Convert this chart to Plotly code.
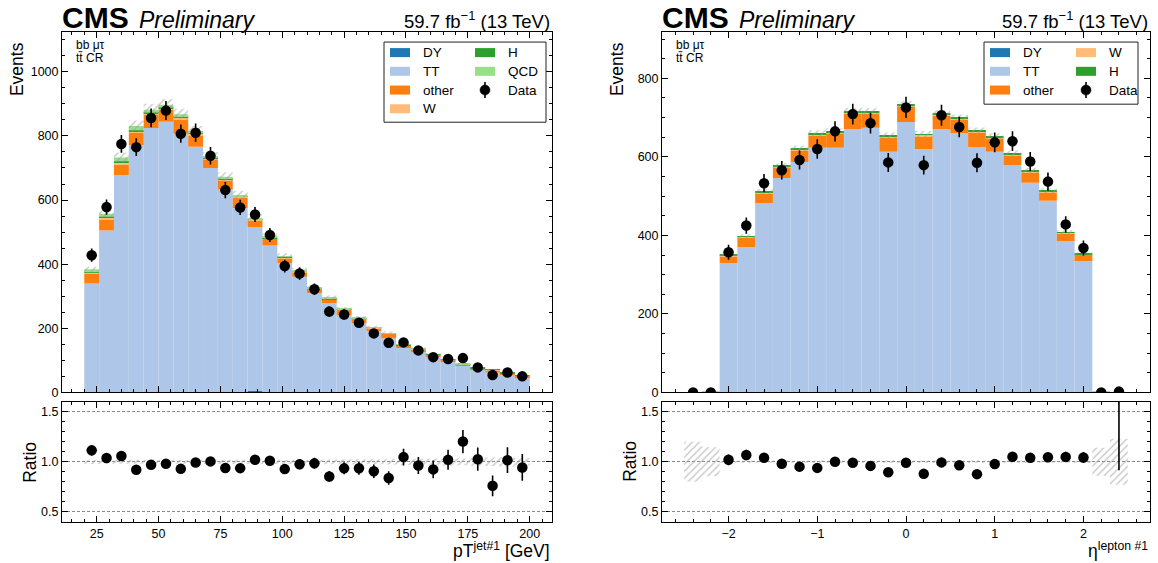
import numpy as np
import plotly.graph_objects as go

W, H = 1158, 563
FONT = "Liberation Sans, Arial, Helvetica, sans-serif"

COLORS = {
    "DY": "#1f77b4",
    "TT": "#aec7e8",
    "other": "#ff7f0e",
    "W": "#ffbb78",
    "H": "#2ca02c",
    "QCD": "#98df8a",
}
HATCH = "#9a9a9a"

# ---------------- leading-jet pT, 6 GeV bins from 20 to 200 GeV ----------------
pt_edges = list(range(20, 201, 6))
pt_dy = [0, 0, 0, 0, 0, 0, 0, 0, 0, 0, 0, 4, 0, 0, 0,
         0, 0, 0, 0, 0, 0, 0, 0, 0, 0, 0, 0, 0, 0, 0]
pt_tt = [340, 505, 677, 771, 825, 844, 807, 766, 700, 633, 575, 512, 458, 403, 361,
         309, 278, 240, 216, 191, 169, 141, 125, 111, 96, 84, 72, 62, 57, 47]
pt_other = [30, 35, 34, 38, 41, 38, 44, 36, 26, 28, 32, 20, 21, 16, 14,
            14, 12, 17, 13, 9, 13, 5, 8, 6, 5, 2, 3, 7, 3, 5]
pt_w = [3, 5, 7, 6, 4, 4, 5, 4, 3, 3, 3, 2, 2, 2, 2,
        1, 1, 1, 1, 1, 1, 1, 1, 1, 0, 0, 0, 1, 0, 0]
pt_h = [2, 3, 3, 3, 3, 3, 3, 2, 2, 2, 2, 2, 2, 2, 1,
        1, 2, 1, 1, 1, 1, 1, 1, 1, 1, 2, 1, 1, 1, 1]
pt_qcd = [9, 9, 12, 13, 9, 8, 9, 7, 4, 7, 4, 4, 3, 2, 2,
          2, 2, 1, 1, 1, 1, 1, 1, 0, 0, 1, 0, 0, 0, 0]
pt_unc = [8, 11, 15, 17, 18, 18, 17, 16, 15, 14, 13, 12, 10, 9, 8,
          7, 7, 6, 6, 5, 5, 5, 4, 4, 4, 3, 3, 3, 3, 2]
pt_data = [428, 578, 775, 765, 856, 879, 807, 810, 738, 631, 577, 555, 491, 394, 371,
           322, 252, 243, 217, 184, 155, 156, 131, 110, 104, 107, 78, 54, 62, 50]

# ---------------- leading-lepton eta, 0.2 bins from -2.5 to 2.5 ----------------
eta_edges = [-2.5, -2.3, -2.1, -1.9, -1.7, -1.5, -1.3, -1.1, -0.9, -0.7, -0.5, -0.3, -0.1,
             0.1, 0.3, 0.5, 0.7, 0.9, 1.1, 1.3, 1.5, 1.7, 1.9, 2.1, 2.3, 2.5]
eta_dy = [0] * 25
eta_tt = [0.5, 0.9, 329, 370, 482, 546, 587, 623, 623, 671, 674, 613, 689,
          620, 671, 660, 625, 613, 579, 534, 488, 386, 334, 0.9, 0.64]
eta_other = [0, 0, 17, 24, 24, 27, 28, 32, 37, 40, 36, 36, 38,
             33, 33, 35, 37, 34, 25, 26, 21, 18, 16, 0, 0]
eta_w = [0, 0, 2, 2, 3, 2, 4, 3, 3, 3, 3, 3, 3,
         3, 3, 3, 3, 3, 3, 3, 3, 2, 2, 0, 0]
eta_h = [0, 0, 2, 2, 3, 2, 3, 2, 2, 2, 2, 2, 3,
         2, 3, 2, 2, 2, 2, 2, 2, 2, 1, 0, 0]
eta_unc = [0.1, 0.13, 4, 5, 6, 7, 7, 8, 8, 9, 9, 8, 9,
           8, 9, 8, 8, 8, 7, 7, 6, 5, 4, 0.126, 0.147]
eta_data = [0, 0, 357, 425, 533, 566, 592, 620, 665, 709, 686, 586, 726,
            579, 706, 676, 585, 637, 640, 588, 537, 428, 368, 0, 2]


def fx(p):
    return p / W


def fy(p):
    return 1 - p / H


fig = go.Figure()


def draw_panel(edges, comps, unc, data, xm, ym, xr, yr):
    edges = np.asarray(edges, float)
    centers = 0.5 * (edges[1:] + edges[:-1])
    widths = np.diff(edges)
    base = np.zeros(len(centers))
    for name, vals in comps:
        vals = np.asarray(vals, float)
        fig.add_trace(go.Bar(
            x=centers, y=vals, base=base.copy(), width=widths, name=name,
            marker=dict(color=COLORS[name], line=dict(width=0)),
            showlegend=False, hoverinfo="skip", xaxis=xm, yaxis=ym))
        base = base + vals
    total = base
    unc = np.asarray(unc, float)
    hatch = dict(shape="/", fgcolor=HATCH, size=5, solidity=0.3, fillmode="overlay")
    fig.add_trace(go.Bar(
        x=centers, y=2 * unc, base=total - unc, width=widths,
        marker=dict(color="rgba(0,0,0,0)", line=dict(width=0), pattern=hatch),
        showlegend=False, hoverinfo="skip", xaxis=xm, yaxis=ym))
    data = np.asarray(data, float)
    err = np.sqrt(data)
    fig.add_trace(go.Scatter(
        x=centers, y=data, mode="markers",
        marker=dict(color="black", size=10.5),
        error_y=dict(type="data", array=err, color="black", thickness=1.6, width=0),
        showlegend=False, xaxis=xm, yaxis=ym))
    # ratio panel
    rel = unc / total
    fig.add_trace(go.Bar(
        x=centers, y=2 * rel, base=1 - rel, width=widths,
        marker=dict(color="rgba(0,0,0,0)", line=dict(width=0), pattern=hatch),
        showlegend=False, hoverinfo="skip", xaxis=xr, yaxis=yr))
    fig.add_trace(go.Scatter(
        x=centers, y=data / total, mode="markers",
        marker=dict(color="black", size=10.5),
        error_y=dict(type="data", array=err / total, color="black", thickness=1.6, width=0),
        showlegend=False, xaxis=xr, yaxis=yr))


draw_panel(pt_edges,
           [("DY", pt_dy), ("TT", pt_tt), ("other", pt_other), ("W", pt_w), ("H", pt_h), ("QCD", pt_qcd)],
           pt_unc, pt_data, "x", "y", "x2", "y2")
draw_panel(eta_edges,
           [("DY", eta_dy), ("TT", eta_tt), ("other", eta_other), ("W", eta_w), ("H", eta_h)],
           eta_unc, eta_data, "x3", "y3", "x4", "y4")

tickfont = dict(family=FONT, size=12.5, color="black")
base_axis = dict(showline=True, linecolor="black", linewidth=1, mirror="allticks",
                 ticks="inside", ticklen=6, tickwidth=1, tickcolor="black",
                 showgrid=False, zeroline=False, tickfont=tickfont)


def axis(**kw):
    d = dict(base_axis)
    d.update(kw)
    return d


minor_x_pt = dict(ticks="inside", ticklen=3, tickwidth=1, tickcolor="black", dtick=5, showgrid=False)
minor_x_eta = dict(ticks="inside", ticklen=3, tickwidth=1, tickcolor="black", dtick=0.2, showgrid=False)
minor_y_main = dict(ticks="inside", ticklen=3, tickwidth=1, tickcolor="black", dtick=50, showgrid=False)
minor_y_ratio = dict(ticks="inside", ticklen=3, tickwidth=1, tickcolor="black", dtick=0.1, showgrid=False)

left_dom = [fx(62), fx(552)]
right_dom = [fx(662), fx(1150)]
main_dom = [fy(391.7), fy(32)]
ratio_dom = [fy(521), fy(401)]

ratio_y = dict(range=[0.4, 1.6], tickvals=[0.5, 1.0, 1.5], ticktext=["0.5", "1.0", "1.5"],
               showgrid=True, gridcolor="#8a8a8a", gridwidth=0.8, griddash="3px,2px",
               minor=minor_y_ratio)

fig.update_layout(
    width=W, height=571, margin=dict(l=0, r=0, t=0, b=0),
    paper_bgcolor="white", plot_bgcolor="white", barmode="overlay",
    font=dict(family=FONT, color="black"),
    xaxis=axis(domain=left_dom, range=[11, 209], dtick=25, tick0=0, anchor="y",
               showticklabels=False, minor=minor_x_pt),
    yaxis=axis(domain=main_dom, range=[0, 1124], dtick=200, anchor="x", minor=minor_y_main),
    xaxis2=axis(domain=left_dom, range=[11, 209], dtick=25, tick0=0, anchor="y2",
                minor=minor_x_pt),
    yaxis2=axis(domain=ratio_dom, anchor="x2", **ratio_y),
    xaxis3=axis(domain=right_dom, range=[-2.75, 2.75], dtick=1, tick0=0, anchor="y3",
                showticklabels=False, minor=minor_x_eta),
    yaxis3=axis(domain=main_dom, range=[0, 918], dtick=200, anchor="x3", minor=minor_y_main),
    xaxis4=axis(domain=right_dom, range=[-2.75, 2.75], dtick=1, tick0=0, anchor="y4",
                minor=minor_x_eta),
    yaxis4=axis(domain=ratio_dom, anchor="x4", **ratio_y),
)


def text(x, y, s, size, xanchor="left", yanchor="middle", angle=0, family=FONT, **font):
    fig.add_annotation(x=fx(x), y=fy(y), xref="paper", yref="paper", text=s,
                       showarrow=False, xanchor=xanchor, yanchor=yanchor, textangle=angle,
                       font=dict(family=family, size=size, color="black", **font))


for x0, x1 in [(62, 552), (662, 1150)]:
    text(x0 - 2, 36, "CMS", 30, yanchor="bottom", weight="bold")
    text(x0 + 75, 35, "Preliminary", 23, yanchor="bottom", style="italic")
    text(x1, 34, "59.7 fb<sup>−1</sup> (13 TeV)", 18.5, xanchor="right", yanchor="bottom")
    text(x0 + 12, 45, "bb μτ", 12)
    text(x0 + 12, 58, "tt CR", 12)
    # bar over the second t of "tt"
    fig.add_shape(type="line", xref="paper", yref="paper",
                  x0=fx(x0 + 16.6), x1=fx(x0 + 20.4), y0=fy(51.6), y1=fy(51.6),
                  line=dict(color="black", width=0.9))
    text(x0 - 45, 69, "Events", 17.5, xanchor="center", angle=-90)
    text(x0 - 32, 461, "Ratio", 17.5, xanchor="center", angle=-90)

text(552, 562.5, "pT<sup>jet#1</sup> [GeV]", 17.5, xanchor="right", yanchor="bottom")
text(1150, 562.5, "η<sup>lepton #1</sup>", 17.5, xanchor="right", yanchor="bottom")


def legend(box, columns):
    bx0, by0, bx1, by1 = box
    fig.add_shape(type="rect", xref="paper", yref="paper", layer="above",
                  x0=fx(bx0), x1=fx(bx1), y0=fy(by1), y1=fy(by0),
                  line=dict(color="#222222", width=1), fillcolor="white")
    for sx, tx, names in columns:
        for i, name in enumerate(names):
            cy = 52.5 + 18.7 * i
            if name == "Data":
                fig.add_shape(type="line", xref="paper", yref="paper", layer="above",
                              x0=fx(sx + 10), x1=fx(sx + 10), y0=fy(cy - 8), y1=fy(cy + 8),
                              line=dict(color="black", width=1.6))
                fig.add_shape(type="circle", xref="paper", yref="paper", layer="above",
                              x0=fx(sx + 5), x1=fx(sx + 15), y0=fy(cy + 5), y1=fy(cy - 5),
                              line=dict(color="black", width=0.5), fillcolor="black")
            else:
                fig.add_shape(type="rect", xref="paper", yref="paper", layer="above",
                              x0=fx(sx), x1=fx(sx + 20), y0=fy(cy + 4.5), y1=fy(cy - 4.5),
                              line=dict(width=0), fillcolor=COLORS[name])
            text(tx, cy, name, 13.5)


legend((384, 42, 546, 122), [(390, 421, ["DY", "TT", "other", "W"]),
                             (475, 506, ["H", "QCD", "Data"])])
legend((984, 42, 1138, 104), [(990, 1021, ["DY", "TT", "other"]),
                              (1076, 1107, ["W", "H", "Data"])])

fig.write_html("out.html")
